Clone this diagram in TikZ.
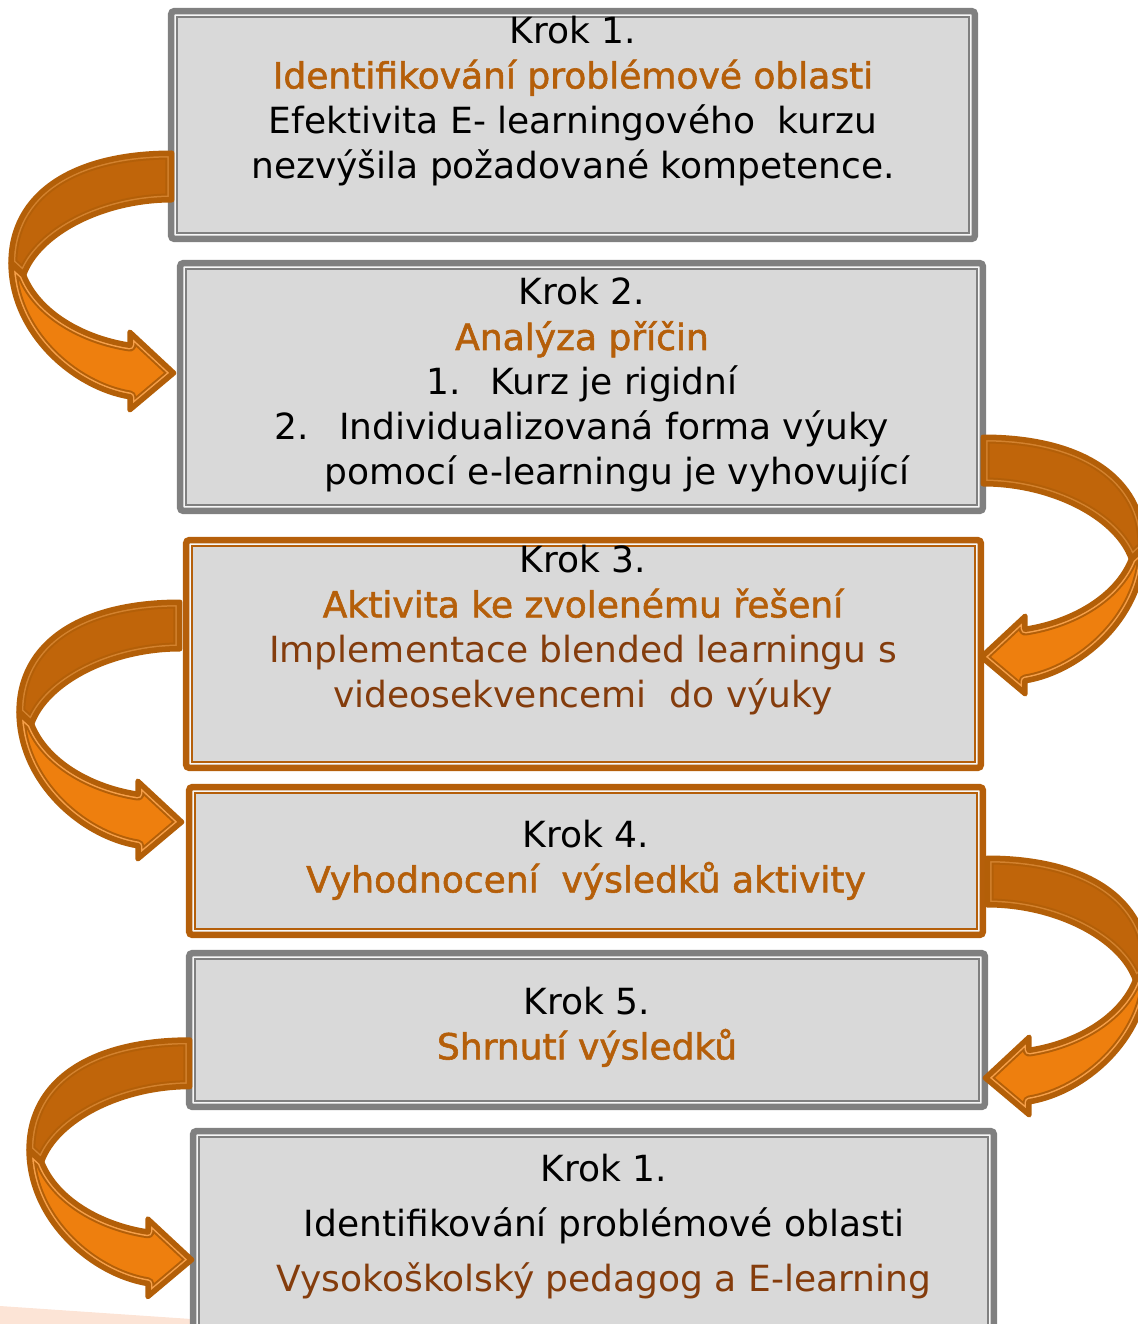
\documentclass[tikz,border=0pt]{standalone}
\usepackage{fontspec}
\setmainfont{DejaVu Sans}
\newfontfamily\nadpisfont[FakeBold=1.6]{DejaVu Sans}
\usetikzlibrary{calc}
\definecolor{boxseda}{HTML}{808080}
\definecolor{boxvypln}{HTML}{D9D9D9}
\definecolor{oranzova}{HTML}{B55F0A}
\definecolor{hneda}{HTML}{843C0C}
\definecolor{sipkatmava}{HTML}{C0650A}
\definecolor{sipkasvetla}{HTML}{EE7F0E}
\definecolor{sipkaokraj}{HTML}{B35F08}
\definecolor{linkatmava}{HTML}{D3822E}
\definecolor{linkasvetla}{HTML}{F6A04A}
\definecolor{pozadi}{HTML}{FCE4D6}
\newcommand{\nadpis}[1]{{\nadpisfont\color{oranzova}#1}}
% upper and lower band of the curved arrow, tip at (0,0)
\def\hornipas{(-2,-220) .. controls (-100,-220) and (-163,-180) .. (-163,-110)
  -- (-150,-98) .. controls (-135,-140) and (-70,-173) .. (-2,-173) -- cycle}
\def\dolnipas{(-163,-110) .. controls (-163,-40) and (-100,15) .. (-44,24)
  -- (-44,37) -- (0,0) -- (-44,-41) -- (-44,-28)
  .. controls (-90,-35) and (-135,-60) .. (-150,-98) -- cycle}
\tikzset{
  krok/.style={draw=#1, fill=boxvypln, line width=0.13cm, rounded corners=2pt, inner sep=0pt,
    path picture={
      \draw[white!80!boxvypln, line width=0.04cm, sharp corners]
        ([shift={(0.085cm,-0.085cm)}]path picture bounding box.north west) rectangle
        ([shift={(-0.085cm,0.085cm)}]path picture bounding box.south east);
      \draw[#1, line width=0.04cm, sharp corners]
        ([shift={(0.125cm,-0.125cm)}]path picture bounding box.north west) rectangle
        ([shift={(-0.125cm,0.125cm)}]path picture bounding box.south east);
    }},
  krok/.default=boxseda,
  textkrok/.style={align=center, font=\fontsize{20.5}{25.6}\selectfont},
  okraj/.style={line join=round, draw=sipkaokraj},
  sipka/.pic={
    \begin{scope}
      \clip \hornipas;
      \fill[sipkatmava] \hornipas;
      \draw[okraj, line width=0.26cm] \hornipas;
      \draw[okraj, draw=linkatmava, line width=0.18cm] \hornipas;
      \draw[okraj, line width=0.12cm] \hornipas;
    \end{scope}
    \draw[okraj, line width=0.1cm] \hornipas;
    \begin{scope}
      \clip \dolnipas;
      \fill[sipkasvetla] \dolnipas;
      \draw[okraj, line width=0.26cm] \dolnipas;
      \draw[okraj, draw=linkasvetla, line width=0.18cm] \dolnipas;
      \draw[okraj, line width=0.12cm] \dolnipas;
    \end{scope}
    \draw[okraj, line width=0.1cm] \dolnipas;
  }
}

\begin{document}
\begin{tikzpicture}[x=0.02cm, y=-0.02cm]
\useasboundingbox (0,0) rectangle (1138,1324);
\clip (0,0) rectangle (1138,1324);

\fill[pozadi] (0,1306) -- (265,1324) -- (0,1324) -- cycle;

%boxes
\node[krok, minimum width=16.08cm, minimum height=4.56cm] (b1) at (573,125) {};
\node[krok, minimum width=16.06cm, minimum height=4.96cm] (b2) at (581.5,387) {};
\node[krok=oranzova, minimum width=15.9cm, minimum height=4.56cm] (b3) at (583.5,654) {};
\node[krok=oranzova, minimum width=15.88cm, minimum height=2.96cm] (b4) at (586,861) {};
\node[krok, minimum width=15.92cm, minimum height=3.08cm] (b5) at (587,1030) {};
\node[krok, minimum width=16.02cm, minimum height=4.08cm] (b6) at (593.5,1233) {};

%texts
\node[textkrok] (t1) at (573,101) {Krok 1.\\
  \nadpis{Identifikování problémové oblasti}\\
  Efektivita E- learningového\ \ kurzu\\
  nezvýšila požadované kompetence.};
\node[textkrok] (t2) at (582,385) {Krok 2.\\
  \nadpis{Analýza příčin}\\
  1.\hspace{0.6cm}Kurz je rigidní\\
  2.\hspace{0.6cm}Individualizovaná forma výuky\\
  \hspace*{1.4cm}pomocí e-learningu je vyhovující};
\node[textkrok] (t3) at (583,630) {Krok 3.\\
  \nadpis{Aktivita ke zvolenému řešení}\\
  \textcolor{hneda}{Implementace blended learningu s}\\
  \textcolor{hneda}{videosekvencemi\ \ do výuky}};
\node[textkrok] (t4) at (586,860) {Krok 4.\\
  \nadpis{Vyhodnocení\ \ výsledků aktivity}};
\node[textkrok] (t5) at (587,1027) {Krok 5.\\
  \nadpis{Shrnutí výsledků}};
\node[textkrok, font=\fontsize{20.5}{31.3}\selectfont] (t6) at (604,1226.5) {Krok 1.\\
  Identifikování problémové oblasti\\
  \textcolor{hneda}{Vysokoškolský pedagog a E-learning}};

%arrows
\pic at ($(b2.west)+(-3,-14)$) {sipka};
\pic[xscale=-1] at ($(b3.east)+(-3,3)$) {sipka};
\pic at ($(b4.west)+(-4,-39)$) {sipka};
\pic[xscale=-1] at ($(b5.east)+(-3,48)$) {sipka};
\pic at ($(b6.north west)+(2,132)$) {sipka};

\end{tikzpicture}
\end{document}
